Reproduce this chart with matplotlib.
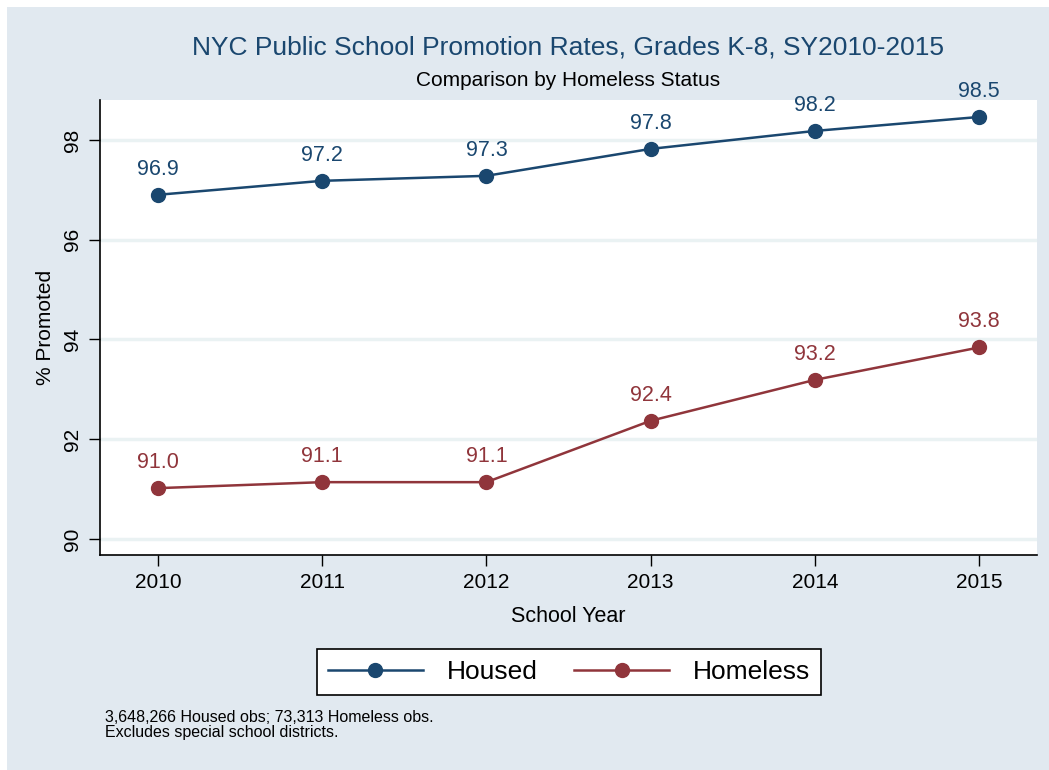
#!/usr/bin/env python3
"""NYC public school promotion rates, grades K-8, housed vs homeless (Stata s2color look)."""
import matplotlib
matplotlib.use('Agg')
import matplotlib.pyplot as plt
from matplotlib.patches import Rectangle

YEARS = [2010, 2011, 2012, 2013, 2014, 2015]
HOUSED = [96.90, 97.18, 97.28, 97.82, 98.18, 98.46]
HOMELESS = [91.02, 91.14, 91.14, 92.37, 93.19, 93.84]
Y_TICKS = [90, 92, 94, 96, 98]

NAVY = '#1A476F'
MAROON = '#90353B'
BG = '#E1E9F0'
GRID = '#EAF2F3'

plt.rcParams['font.family'] = ['Liberation Sans', 'DejaVu Sans']

W, H = 1049, 770
fig = plt.figure(figsize=(W / 100, H / 100), dpi=100)
fig.patch.set_facecolor('white')
fig.add_artist(Rectangle((7 / W, 0), 1 - 7 / W, 1 - 7 / H, transform=fig.transFigure,
                         facecolor=BG, edgecolor='none', zorder=-10))

ax = fig.add_axes([100 / W, 1 - 555 / H, (1037 - 100) / W, (555 - 100) / H])
ax.set_facecolor('white')

ax.plot(YEARS, HOUSED, color=NAVY, lw=1.8, marker='o', ms=10, label='Housed', zorder=3)
ax.plot(YEARS, HOMELESS, color=MAROON, lw=1.8, marker='o', ms=10, label='Homeless', zorder=3)

for x, y in zip(YEARS, HOUSED):
    ax.annotate(f'{y:.1f}', (x, y), xytext=(0, 11), textcoords='offset points',
                ha='center', va='bottom', fontsize=15.5, color=NAVY)
for x, y in zip(YEARS, HOMELESS):
    ax.annotate(f'{y:.1f}', (x, y), xytext=(0, 11), textcoords='offset points',
                ha='center', va='bottom', fontsize=15.5, color=MAROON)

ax.set_xlim(2009.647, 2015.353)
ax.set_ylim(89.68, 98.80)
ax.set_xticks(YEARS)
ax.set_yticks(Y_TICKS)
ax.set_yticklabels([str(t) for t in Y_TICKS], rotation=90, va='center')
ax.tick_params(axis='both', labelsize=15, length=8, width=1, color='black', pad=5)
ax.grid(axis='y', color=GRID, lw=2.5, zorder=0)
ax.set_axisbelow(True)
for side in ['top', 'right']:
    ax.spines[side].set_visible(False)
ax.spines['left'].set_linewidth(1.2)
ax.spines['bottom'].set_linewidth(1.2)

ax.set_xlabel('School Year', fontsize=15.5, labelpad=10)
ax.set_ylabel('% Promoted', fontsize=15, labelpad=6)

fig.text(568 / W, 1 - 47 / H, 'NYC Public School Promotion Rates, Grades K-8, SY2010-2015',
         ha='center', va='center', fontsize=19, color=NAVY)
fig.text(568 / W, 1 - 81 / H, 'Comparison by Homeless Status',
         ha='center', va='center', fontsize=15, color='black')

leg = fig.legend(loc='center', bbox_to_anchor=(569 / W, 1 - 672 / H), ncol=2,
                 fontsize=19, frameon=True, fancybox=False, framealpha=1,
                 handlelength=3.6, columnspacing=1.4, borderpad=0.4, handletextpad=0.9)
leg.get_frame().set_edgecolor('black')
leg.get_frame().set_linewidth(1.2)
leg.get_frame().set_facecolor('white')

fig.text(105 / W, 1 - 725 / H, '3,648,266 Housed obs; 73,313 Homeless obs.\nExcludes special school districts.',
         ha='left', va='center', fontsize=11.5, linespacing=1.0)

fig.savefig('out.png', dpi=100, facecolor=fig.get_facecolor())
